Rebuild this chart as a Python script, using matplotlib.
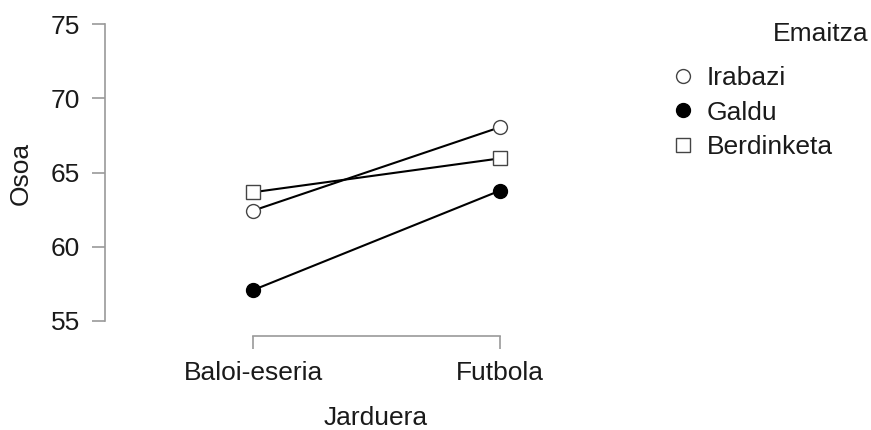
"""Interaction plot: Osoa by Jarduera and Emaitza."""

import matplotlib.pyplot as plt
from matplotlib.lines import Line2D

plt.rcParams['font.family'] = ['Liberation Sans', 'DejaVu Sans']

jarduera = ['Baloi-eseria', 'Futbola']
emaitza = ['Irabazi', 'Galdu', 'Berdinketa']
irabazi = [62.43, 68.05]
galdu = [57.08, 63.78]
berdinketa = [63.67, 65.95]
y_ticks = [55, 60, 65, 70, 75]

W, H = 871, 430
fig = plt.figure(figsize=(W / 100, H / 100), dpi=100)

# axes placed in pixels: y axis at x=105, x axis line at y=336
left, right, top, bottom = 105, 560, 24, 336
ax = fig.add_axes([left / W, 1 - bottom / H, (right - left) / W, (bottom - top) / H])

ppu_x = 500 - 253
ax.set_xlim(-(253 - left) / ppu_x, (right - 253) / ppu_x)
ppu_y = (321 - 24) / 20
ax.set_ylim(55 - (bottom - 321) / ppu_y, 75)

styles = {
    'Irabazi': dict(marker='o', mfc='white', mec='#444444'),
    'Galdu': dict(marker='o', mfc='black', mec='black'),
    'Berdinketa': dict(marker='s', mfc='white', mec='#444444'),
}
series = {'Irabazi': irabazi, 'Galdu': galdu, 'Berdinketa': berdinketa}
x = list(range(len(jarduera)))
for name in emaitza:
    ax.plot(x, series[name], color='black', lw=1.5, ms=10, mew=1.0,
            zorder=3, **styles[name])

for s in ['top', 'right']:
    ax.spines[s].set_visible(False)
gray = '#9a9a9a'
ax.spines['left'].set_bounds(55, 75)
ax.spines['bottom'].set_bounds(0, 1)
for s in ['left', 'bottom']:
    ax.spines[s].set_color(gray)
    ax.spines[s].set_linewidth(1.2)

ax.set_yticks(y_ticks)
ax.set_xticks(x)
ax.set_xticklabels(jarduera)
ax.tick_params(axis='both', colors=gray, labelcolor='#1a1a1a',
               labelsize=19, length=9.4, width=1.2)
ax.tick_params(axis='y', pad=8.5)
ax.tick_params(axis='x', pad=8.5)

fig.text(21 / W, 1 - 173 / H, 'Osoa', rotation=90, fontsize=19,
         color='#1a1a1a', ha='center', va='center')
fig.text(376 / W, 1 - 418 / H, 'Jarduera', fontsize=19,
         color='#1a1a1a', ha='center', va='center')

# legend
fig.text(868 / W, 1 - 34 / H, 'Emaitza', fontsize=19,
         color='#1a1a1a', ha='right', va='center')
handles = [Line2D([], [], ls='none', ms=10, mew=1.0, **styles[n]) for n in emaitza]
fig.legend(handles, emaitza, loc='upper left',
           bbox_to_anchor=(675 / W, 1 - 66 / H), frameon=False,
           fontsize=19, handlelength=0.6, handletextpad=0.6,
           labelspacing=0.40, borderpad=0, borderaxespad=0,
           labelcolor='#1a1a1a')

fig.savefig('out.png', dpi=100)
